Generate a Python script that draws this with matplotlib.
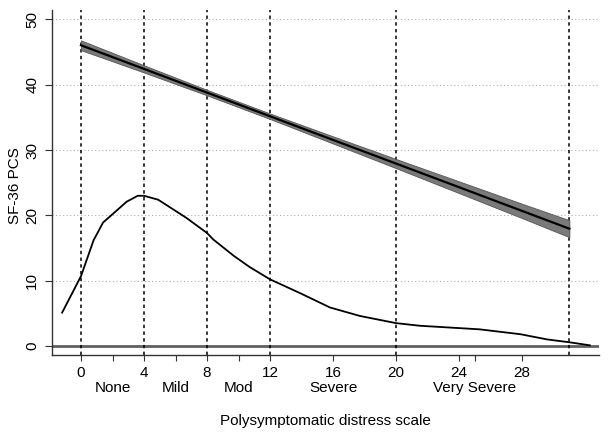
import matplotlib
matplotlib.use("Agg")
import matplotlib.pyplot as plt

plt.rcParams['font.family'] = ['Liberation Sans', 'DejaVu Sans']

# fitted SF-36 PCS line with confidence band
fit_x = [0, 4, 8, 12, 16, 20, 24, 28, 31]
fit_y = [46.05, 42.43, 38.80, 35.18, 31.55, 27.93, 24.31, 20.68, 17.96]
fit_lo = [45.30, 41.88, 38.38, 34.76, 31.00, 27.23, 23.41, 19.58, 16.66]
fit_hi = [46.80, 42.98, 39.22, 35.60, 32.10, 28.63, 25.21, 21.78, 19.26]

# distribution of the polysymptomatic distress scale (percent)
dist_x = [-1.2, 0, 0.8, 1.4, 2.9, 3.6, 4.0, 4.9, 6.7, 8.0, 8.4, 9.7, 10.7, 12.0,
          13.9, 15.8, 17.7, 20.0, 21.5, 25.3, 27.9, 29.6, 31.0, 32.3]
dist_y = [5.1, 10.7, 16.2, 18.9, 22.1, 23.0, 23.0, 22.4, 19.6, 17.3, 16.3, 13.8, 12.1, 10.2,
          8.1, 5.9, 4.6, 3.5, 3.1, 2.55, 1.8, 1.0, 0.57, 0.1]

cut_points = [0, 4, 8, 12, 20, 31]
x_ticks = [0, 4, 8, 12, 16, 20, 24, 28]
y_ticks = [0, 10, 20, 30, 40, 50]
cat_pos = [2, 6, 10, 16, 25]
cat_labels = ["None", "Mild", "Mod", "Severe", "Very Severe"]

fig = plt.figure(figsize=(6.1, 4.41), dpi=100)
ax = fig.add_axes([51.7 / 610, 1 - 355 / 441, (599 - 51.7) / 610, 345 / 441])

ax.set_xlim(-1.86, 32.88)
ax.set_ylim(-1.38, 51.45)

# dotted horizontal grid
for yv in y_ticks[1:]:
    ax.axhline(yv, color='#b0b0b0', lw=0.8, linestyle=(0, (1, 2.2)), zorder=1)
ax.axhline(0, color='#606060', lw=2, zorder=2)

# category cut points
for xv in cut_points:
    ax.axvline(xv, color='black', lw=1.1, linestyle=(0, (2.2, 2.2)), zorder=2)

ax.fill_between(fit_x, fit_lo, fit_hi, color='#7a7a7a', lw=0.6, edgecolor='#555555', zorder=3)
ax.plot(fit_x, fit_y, color='black', lw=1.6, zorder=4)
ax.plot(dist_x, dist_y, color='black', lw=1.3, zorder=4)

for s in ['top', 'right']:
    ax.spines[s].set_visible(False)
for s in ['left', 'bottom']:
    ax.spines[s].set_color('#333333')
    ax.spines[s].set_linewidth(1.0)

ax.set_xticks(x_ticks)
ax.set_xticks(cat_pos, minor=True)
ax.set_yticks(y_ticks)
ax.tick_params(axis='x', which='both', length=4, width=0.8, color='#333333',
               labelsize=11, pad=4)
ax.tick_params(axis='y', length=5, width=0.8, color='#333333', labelsize=11,
               pad=4, labelrotation=90)
for lab in ax.get_yticklabels():
    lab.set_va('center')

for xp, lab in zip(cat_pos, cat_labels):
    ax.text(xp, -0.096, lab, transform=ax.get_xaxis_transform(),
            ha='center', va='center', fontsize=11)

ax.set_xlabel("Polysymptomatic distress scale", fontsize=11)
ax.xaxis.set_label_coords(0.5, -0.172)
ax.set_ylabel("SF-36 PCS", fontsize=11)
ax.yaxis.set_label_coords(-0.054, 0.49)

fig.savefig("out.png", dpi=100)
